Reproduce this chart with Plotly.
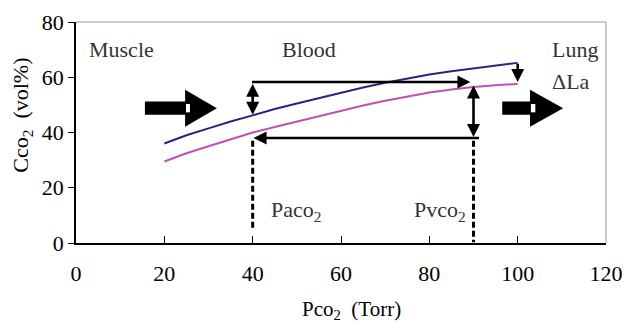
import plotly.graph_objects as go

# ---- data ----
pco2 = [20, 25, 30, 35, 40, 45, 50, 55, 60, 65, 70, 75, 80, 85, 90, 95, 100]
cco2_venous = [36.0, 39.0, 41.5, 44.0, 46.2, 48.5, 50.5, 52.5, 54.5, 56.3, 58.0, 59.6, 61.0, 62.2, 63.2, 64.2, 65.2]
cco2_arterial = [29.5, 32.5, 35.0, 37.6, 40.0, 42.0, 44.0, 46.0, 48.0, 49.8, 51.5, 53.0, 54.5, 55.6, 56.5, 57.1, 57.6]
x_ticks = [0, 20, 40, 60, 80, 100, 120]
y_ticks = [0, 20, 40, 60, 80]
paco2 = 40
pvco2 = 90

SERIF = "Liberation Serif"

fig = go.Figure()
fig.add_trace(go.Scatter(x=pco2, y=cco2_venous, mode="lines",
                         line=dict(color="#26267c", width=2), showlegend=False))
fig.add_trace(go.Scatter(x=pco2, y=cco2_arterial, mode="lines",
                         line=dict(color="#c050b2", width=2), showlegend=False))

shapes = []
# dashed verticals
shapes.append(dict(type="line", xref="x", yref="y", x0=paco2, x1=paco2, y0=37, y1=4.5,
                   line=dict(color="black", width=3, dash="6px,3px")))
shapes.append(dict(type="line", xref="x", yref="y", x0=pvco2, x1=pvco2, y0=37, y1=0.3,
                   line=dict(color="black", width=3, dash="6px,3px")))
# frame top/right (gray)
shapes.append(dict(type="line", xref="paper", yref="paper", x0=0, x1=1, y0=1, y1=1,
                   line=dict(color="#999999", width=1)))
shapes.append(dict(type="line", xref="paper", yref="paper", x0=1, x1=1, y0=0, y1=1,
                   line=dict(color="#999999", width=1)))


def fat_arrow(x0, xb, xt, ym, sh, hh, wx0, wx1, wh):
    p = (f"M{x0},{ym-sh} L{xb},{ym-sh} L{xb},{ym-hh} L{xt},{ym} L{xb},{ym+hh} "
         f"L{xb},{ym+sh} L{x0},{ym+sh} Z")
    shapes.append(dict(type="path", xref="x", yref="y", path=p,
                       fillcolor="black", line=dict(width=0), layer="above"))
    shapes.append(dict(type="rect", xref="x", yref="y", x0=wx0, x1=wx1, y0=ym - wh, y1=ym + wh,
                       fillcolor="white", line=dict(width=0), layer="above"))


fat_arrow(15.6, 24.7, 31.9, 48.8, 2.4, 6.7, 24.9, 25.8, 1.5)
fat_arrow(96.5, 102.8, 110.3, 48.8, 2.4, 6.7, 103.0, 104.0, 1.5)

annotations = []


def arrow(x, y, ax, ay, both=False):
    annotations.append(dict(x=x, y=y, ax=ax, ay=ay, xref="x", yref="y", axref="x", ayref="y",
                            text="", showarrow=True, arrowhead=2, arrowsize=1.0,
                            arrowwidth=2.6, arrowcolor="black",
                            arrowside="end+start" if both else "end"))


arrow(89.3, 58.3, 39.5, 58.3)
arrow(40.2, 38.0, 91.6, 38.0)
arrow(40, 46.4, 40, 58.2, both=True)
arrow(90, 38.4, 90, 57.6, both=True)
arrow(100, 58.3, 100, 65.4)


def label(x, y, t, size=22):
    annotations.append(dict(x=x, y=y, xref="x", yref="y", text=t, showarrow=False,
                            font=dict(family=SERIF, size=size, color="#333333")))


label(10.4, 70, "Muscle")
label(52.7, 70, "Blood")
label(113, 70, "Lung")
label(112, 58.3, "ΔLa")
label(49.8, 11.6, "Paco<sub>2</sub>")
label(82.4, 11.6, "Pvco<sub>2</sub>")

annotations.append(dict(x=0.52, y=-0.305, xref="paper", yref="paper", yanchor="middle",
                        text="Pco<sub>2</sub>  (Torr)", showarrow=False,
                        font=dict(family=SERIF, size=21, color="black")))
annotations.append(dict(x=-0.102, y=0.58, xref="paper", yref="paper", textangle=-90,
                        xanchor="center", yanchor="middle",
                        text="Cco<sub>2</sub>  (vol%)", showarrow=False,
                        font=dict(family=SERIF, size=22, color="black")))

fig.update_layout(
    annotations=annotations, shapes=shapes,
    width=627, height=324,
    margin=dict(l=76, r=21, t=22, b=81, autoexpand=False),
    plot_bgcolor="white", paper_bgcolor="white",
    xaxis=dict(range=[0, 120], tickvals=x_ticks, ticks="inside", ticklen=7, tickwidth=1,
               tickcolor="black", showline=True, linecolor="black", linewidth=1.5,
               showgrid=False, zeroline=False, ticklabelstandoff=10, automargin=False,
               ticklabeloverflow="allow",
               tickfont=dict(family=SERIF, size=22, color="black")),
    yaxis=dict(range=[0, 80], tickvals=y_ticks, ticks="outside", ticklen=6, tickwidth=1,
               tickcolor="black", showline=True, linecolor="black", linewidth=1.5,
               showgrid=False, zeroline=False, automargin=False,
               tickfont=dict(family=SERIF, size=22, color="black")),
)

# remove the default page margin so the figure fills the window exactly
fig.write_html("out.html", config={"displayModeBar": False},
               post_script="document.body.style.margin='0';")
